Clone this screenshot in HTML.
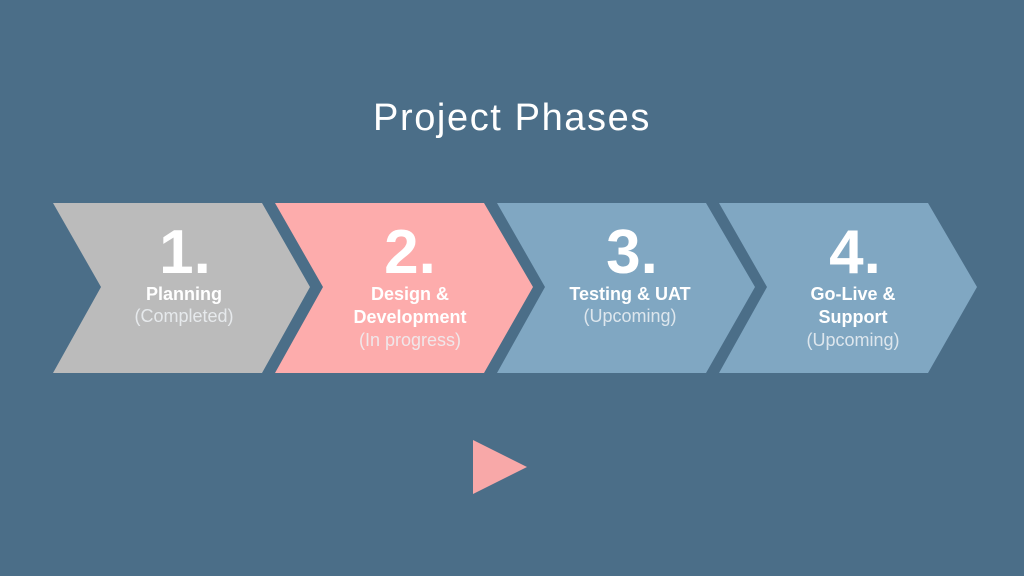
<!DOCTYPE html>
<html><head><meta charset="utf-8"><style>
body{margin:0;width:1024px;height:576px;background:#4b6e88;overflow:hidden;font-family:"Liberation Sans",sans-serif;}
svg{position:absolute;left:0;top:0}
</style></head><body>
<svg width="1024" height="576" viewBox="0 0 1024 576">
<rect width="1024" height="576" fill="#4b6e88"/>
<text x="512" y="130" text-anchor="middle" font-size="38" fill="#fff" font-family="Liberation Sans, sans-serif" letter-spacing="1.6">Project Phases</text>
<polygon points="53,203 262,203 310,287 262,373 53,373 101,287" fill="#bbbbbb"/>
<polygon points="275,203 484,203 533,287 484,373 275,373 323,287" fill="#fdacac"/>
<polygon points="497,203 706,203 755,287 706,373 497,373 545,287" fill="#80a7c2"/>
<polygon points="719,203 928,203 977,287 928,373 719,373 767,287" fill="#80a7c2"/>
<g fill="#fff" font-family="Liberation Sans, sans-serif" text-anchor="middle">
<g font-size="62" font-weight="bold">
<text x="185" y="273">1.</text>
<text x="410" y="273">2.</text>
<text x="632" y="273">3.</text>
<text x="855" y="273">4.</text>
</g>
<g font-size="18" font-weight="bold">
<text x="184" y="300">Planning</text>
<text x="410" y="300">Design &amp;</text>
<text x="410" y="323">Development</text>
<text x="630" y="300">Testing &amp; UAT</text>
<text x="853" y="300">Go-Live &amp;</text>
<text x="853" y="323">Support</text>
</g>
<g font-size="18" fill="#eef2f5" opacity="0.85">
<text x="184" y="322">(Completed)</text>
<text x="410" y="346">(In progress)</text>
<text x="630" y="322">(Upcoming)</text>
<text x="853" y="346">(Upcoming)</text>
</g>
</g>
<polygon points="473,440 527,467 473,494" fill="#f8a8a8"/>
</svg>
</body></html>
